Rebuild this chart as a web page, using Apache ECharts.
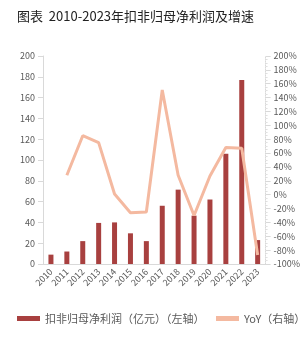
<!DOCTYPE html>
<html>
<head>
    <meta charset="utf-8">
    <title>扣非归母净利润及增速</title>
    <script src="https://cdn.jsdelivr.net/npm/echarts@6/dist/echarts.min.js"></script>
</head>
<body style="margin:0">
<div id="main" style="width:303px;height:339px;background:#fff"></div>
<script type="text/javascript">
    var years = ['2010','2011','2012','2013','2014','2015','2016','2017','2018','2019','2020','2021','2022','2023'];
    // 扣非归母净利润（亿元）
    var profit = [9, 12, 22, 39.5, 40, 29.5, 22, 56, 71.5, 46.5, 62, 106, 177, 23];
    // YoY（%）
    var yoy = [null, 28, 85, 75, 1, -26, -25, 151, 28, -30, 27, 68, 67, -87];

    var myChart = echarts.init(document.getElementById('main'));
    var gray = '#595959';
    var legendText = {fontSize: 11, color: gray};
    myChart.setOption({
        animation: false,
        textStyle: {fontFamily: '"Noto Sans CJK SC", sans-serif'},
        title: {
            text: '图表  2010-2023年扣非归母净利润及增速',
            left: 12,
            top: 5,
            textStyle: {fontSize: 13, fontWeight: 'normal', color: '#222'}
        },
        legend: [{
            left: 12,
            top: 308,
            itemWidth: 23,
            itemHeight: 5,
            textStyle: legendText,
            data: [{name: '扣非归母净利润（亿元）（左轴）', icon: 'rect'}]
        }, {
            left: 211,
            top: 308,
            itemWidth: 23,
            itemHeight: 5,
            textStyle: legendText,
            data: [{name: 'YoY（右轴）', icon: 'rect'}]
        }],
        grid: {left: 43, right: 34, top: 56, bottom: 75},
        xAxis: {
            type: 'category',
            data: years,
            axisLine: {lineStyle: {color: '#d9d9d9'}},
            axisTick: {show: false},
            axisLabel: {rotate: 45, fontSize: 9, color: gray, margin: 6, interval: 0}
        },
        yAxis: [{
            type: 'value',
            min: 0, max: 200, interval: 20,
            axisLine: {show: true, lineStyle: {color: '#d9d9d9'}},
            axisTick: {show: true, lineStyle: {color: '#d9d9d9'}},
            splitLine: {show: false},
            axisLabel: {fontSize: 9, color: gray}
        }, {
            type: 'value',
            min: -100, max: 200, interval: 20,
            axisLine: {show: true, lineStyle: {color: '#d9d9d9', type: 'dotted'}},
            axisTick: {show: true, lineStyle: {color: '#d9d9d9'}},
            minorTick: {show: true, splitNumber: 4, length: 2, lineStyle: {color: '#e0e0e0'}},
            splitLine: {show: false},
            axisLabel: {fontSize: 9, color: gray, formatter: '{value}%'}
        }],
        series: [{
            name: '扣非归母净利润（亿元）（左轴）',
            type: 'bar',
            data: profit,
            barWidth: 5,
            itemStyle: {color: '#A8403F'}
        }, {
            name: 'YoY（右轴）',
            type: 'line',
            yAxisIndex: 1,
            data: yoy,
            symbol: 'none',
            lineStyle: {color: '#F4B9A0', width: 3},
            itemStyle: {color: '#F4B9A0'}
        }]
    });
</script>
</body>
</html>
